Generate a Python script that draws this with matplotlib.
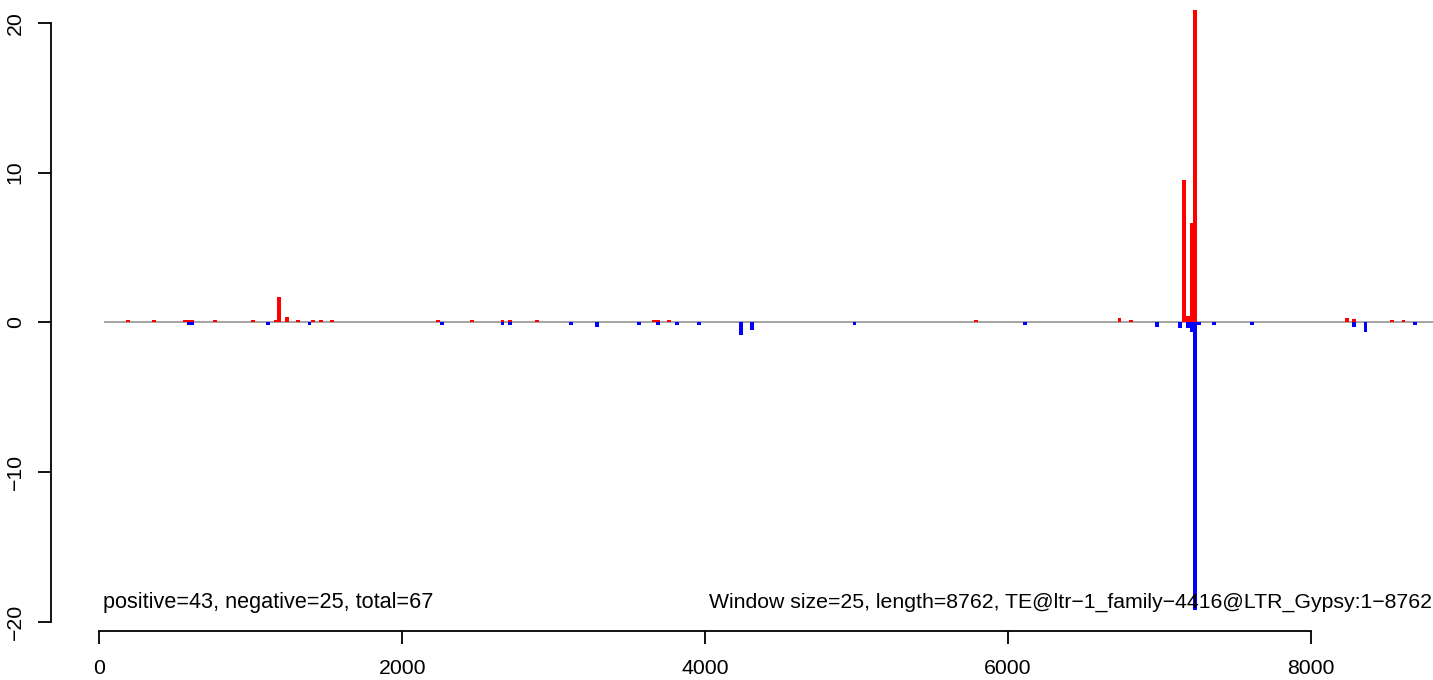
import numpy as np
import matplotlib
matplotlib.use("Agg")
import matplotlib.pyplot as plt

plt.rcParams['font.family'] = ['Liberation Sans', 'DejaVu Sans']

# window positions (bp) and scores
pos_x = [187.5, 362.5, 562.5, 587.5, 612.5, 762.5, 1012.5, 1162.5, 1187.5, 1237.5,
         1312.5, 1412.5, 1462.5, 1537.5, 2237.5, 2462.5, 2662.5, 2712.5, 2887.5,
         3662.5, 3687.5, 3762.5, 5787.5, 6737.5, 6812.5, 7162.5, 7187.5, 7212.5,
         7237.5, 8237.5, 8287.5, 8537.5, 8612.5]
pos_y = [0.17, 0.17, 0.17, 0.17, 0.17, 0.17, 0.17, 0.17, 1.7, 0.35,
         0.17, 0.17, 0.17, 0.17, 0.17, 0.17, 0.17, 0.17, 0.17,
         0.17, 0.17, 0.17, 0.17, 0.28, 0.17, 9.5, 0.42, 6.65,
         20.9, 0.3, 0.2, 0.17, 0.17]

neg_x = [587.5, 612.5, 1112.5, 1387.5, 2262.5, 2662.5, 2712.5, 3112.5, 3287.5,
         3562.5, 3687.5, 3812.5, 3962.5, 4237.5, 4312.5, 4987.5, 6112.5, 6987.5,
         7137.5, 7187.5, 7212.5, 7237.5, 7262.5, 7362.5, 7612.5, 8287.5, 8362.5,
         8687.5]
neg_y = [-0.2, -0.2, -0.2, -0.2, -0.2, -0.2, -0.2, -0.2, -0.32,
         -0.2, -0.2, -0.2, -0.2, -0.85, -0.52, -0.2, -0.2, -0.3,
         -0.36, -0.36, -0.65, -19.2, -0.15, -0.15, -0.2, -0.33, -0.65,
         -0.2]

window = 25
length = 8762
xticks = [0, 2000, 4000, 6000, 8000]
yticks = [-20, -10, 0, 10, 20]
left_label = "positive=43, negative=25, total=67"
right_label = "Window size=25, length=8762, TE@ltr\u22121_family\u22124416@LTR_Gypsy:1\u22128762"

W, H = 1433, 680
fig = plt.figure(figsize=(W / 100, H / 100), dpi=100)
ax = fig.add_axes([51 / W, 49 / H, 1 - 51 / W, 1 - 49 / H])

ax.hlines(0, 30, 8830, color='#8c8c8c', lw=1.1, zorder=1)
ax.bar(pos_x, pos_y, width=window, color='#ff0000', linewidth=0, zorder=2)
ax.bar(neg_x, neg_y, width=window, color='#0000ff', linewidth=0, zorder=2)

ax.set_xlim(-320, 8808)
ax.set_ylim(-20.63, 21.54)

for s in ['top', 'right']:
    ax.spines[s].set_visible(False)
ax.spines['left'].set_bounds(-20, 20)
ax.spines['bottom'].set_bounds(0, 8000)
for s in ['left', 'bottom']:
    ax.spines[s].set_linewidth(1.3)

ax.set_xticks(xticks)
ax.set_xticklabels([str(v) for v in xticks])
ax.set_yticks(yticks)
ax.set_yticklabels(['\u2212' + str(-v) if v < 0 else str(v) for v in yticks],
                   rotation=90, va='center')
ax.tick_params(axis='both', length=9.4, width=1.3, labelsize=15.3, color='black')
ax.tick_params(axis='x', pad=11)
ax.tick_params(axis='y', pad=9.5)

ax.text(23, -19.1, left_label, fontsize=15.6, ha='left', va='baseline')
ax.text(8802, -19.1, right_label, fontsize=15.3, ha='right', va='baseline')

fig.savefig('out.png', dpi=100)
